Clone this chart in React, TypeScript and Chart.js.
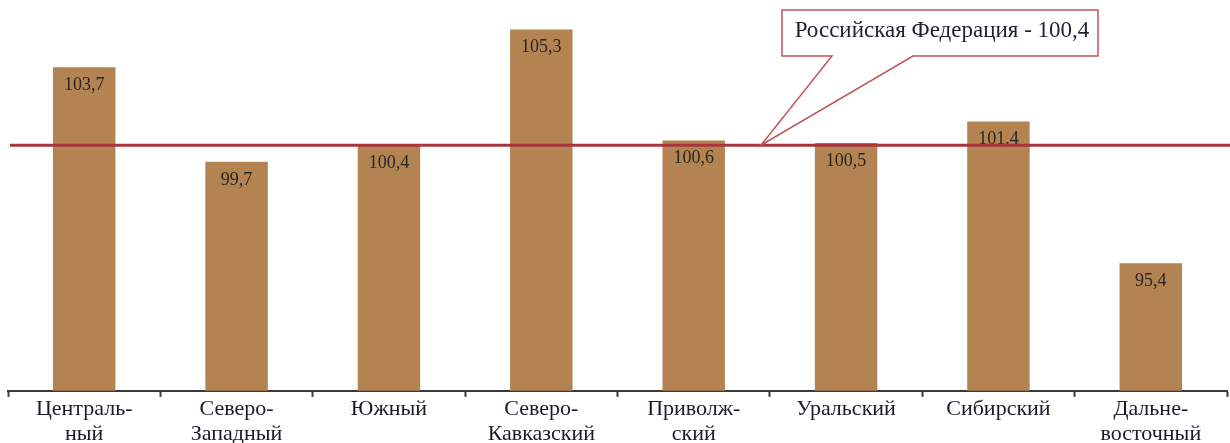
import React, { useEffect, useRef } from "react";
import { Chart, registerables } from "chart.js";

Chart.register(...registerables);

const categories: string[][] = [
  ["Централь-", "ный"],
  ["Северо-", "Западный"],
  ["Южный"],
  ["Северо-", "Кавказский"],
  ["Приволж-", "ский"],
  ["Уральский"],
  ["Сибирский"],
  ["Дальне-", "восточный"],
];
const values: number[] = [103.7, 99.7, 100.4, 105.3, 100.6, 100.5, 101.4, 95.4];
const federationValue = 100.4;
const federationLabel = "Российская Федерация - 100,4";

const fmt = (v: number) => v.toFixed(1).replace(".", ",");

const overlayPlugin = {
  id: "overlay",
  afterDatasetsDraw(chart: any) {
    const { ctx, scales } = chart;
    const x = scales.x;
    const y = scales.y;
    const meta = chart.getDatasetMeta(0);
    ctx.save();
    // value labels
    ctx.font = "18px 'Liberation Serif', 'Times New Roman', serif";
    ctx.fillStyle = "#262626";
    ctx.textAlign = "center";
    ctx.textBaseline = "middle";
    meta.data.forEach((bar: any, i: number) => {
      ctx.fillText(fmt(values[i]), bar.x, bar.y + 18);
    });
    // federation line
    const ly = y.getPixelForValue(federationValue);
    ctx.strokeStyle = "#A8353C";
    ctx.lineWidth = 3;
    ctx.beginPath();
    ctx.moveTo(x.left + 2, ly);
    ctx.lineTo(chart.width, ly);
    ctx.stroke();
    // callout
    const px = (x.getPixelForValue(4) + x.getPixelForValue(5)) / 2 - 9;
    const bx0 = 782, bx1 = 1098, by0 = 10, by1 = 56;
    ctx.fillStyle = "#ffffff";
    ctx.strokeStyle = "#C0555A";
    ctx.lineWidth = 1.5;
    ctx.beginPath();
    ctx.moveTo(bx0, by0);
    ctx.lineTo(bx1, by0);
    ctx.lineTo(bx1, by1);
    ctx.lineTo(913, by1);
    ctx.lineTo(px, ly);
    ctx.lineTo(832, by1);
    ctx.lineTo(bx0, by1);
    ctx.closePath();
    ctx.fill();
    ctx.stroke();
    ctx.fillStyle = "#1f1f2e";
    ctx.font = "23px 'Liberation Serif', 'Times New Roman', serif";
    ctx.textAlign = "center";
    ctx.fillText(federationLabel, 942, 31);
    ctx.restore();
  },
};

export default function App() {
  const ref = useRef<HTMLCanvasElement>(null);
  useEffect(() => {
    document.body.style.margin = "0";
    const chart = new Chart(ref.current!, {
      type: "bar",
      data: {
        labels: categories,
        datasets: [
          {
            data: values,
            backgroundColor: "#B38451",
            borderWidth: 0,
            barPercentage: 0.41,
            categoryPercentage: 1,
          },
        ],
      },
      options: {
        animation: false,
        responsive: false,
        layout: { padding: { left: 8, right: 3, top: 0, bottom: -4 } },
        plugins: { legend: { display: false }, tooltip: { enabled: false } },
        scales: {
          y: { display: false, min: 90, max: 106.55 },
          x: {
            border: { display: true, color: "#3a3a3a", width: 2 },
            grid: {
              display: true,
              drawOnChartArea: false,
              drawTicks: true,
              tickLength: 6,
              tickColor: "#3a3a3a",
              tickWidth: 2,
              offset: true,
            },
            ticks: {
              color: "#1a1a2a",
              padding: 0,
              maxRotation: 0,
              autoSkip: false,
              font: { family: "'Liberation Serif', 'Times New Roman', serif", size: 22, lineHeight: 1.14 },
            },
          },
        },
      },
      plugins: [overlayPlugin],
    });
    return () => chart.destroy();
  }, []);
  return <canvas ref={ref} width={1230} height={443} style={{ display: "block" }} />;
}
